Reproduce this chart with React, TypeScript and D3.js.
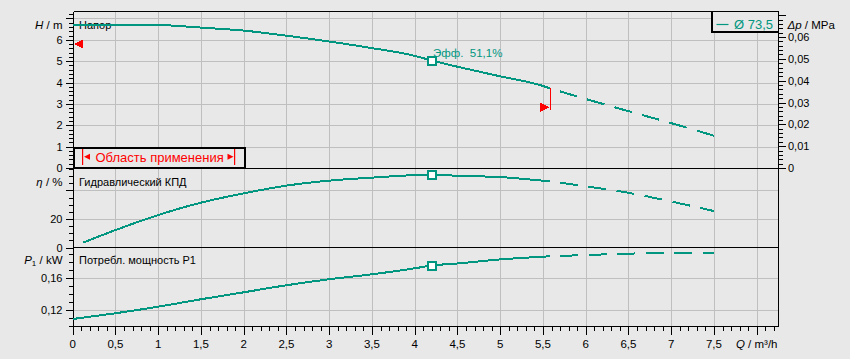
import React from 'react';
import * as d3 from 'd3';

// ---- data ----
const qHead = [0, 0.5, 1, 1.5, 2, 2.5, 3, 3.5, 4, 4.2, 4.5, 5, 5.5, 5.58, 6, 6.5, 7, 7.5];
const headM = [6.70, 6.70, 6.69, 6.57, 6.43, 6.19, 5.92, 5.61, 5.25, 5.03, 4.74, 4.29, 3.84, 3.73, 3.23, 2.66, 2.10, 1.51];
const qEff = [0.12, 0.5, 1, 1.5, 2, 2.5, 3, 3.5, 4, 4.2, 4.5, 5, 5.5, 5.58, 6, 6.5, 7, 7.5];
const effPct = [3.4, 12.2, 22.7, 31.4, 37.9, 43.3, 46.8, 48.9, 50.7, 51.1, 50.2, 49.3, 46.8, 46.4, 42.8, 38.3, 32.2, 25.5];
const qPow = [0, 0.5, 1, 1.5, 2, 2.5, 3, 3.5, 4, 4.2, 4.5, 5, 5.5, 5.58, 6, 6.5, 7, 7.5];
const powerKW = [0.1091, 0.1163, 0.1245, 0.1338, 0.1425, 0.1513, 0.1588, 0.165, 0.1725, 0.176, 0.1785, 0.1836, 0.187, 0.1875, 0.1891, 0.1908, 0.192, 0.191];

const qDuty = 4.2;
const qSolidLimit = 5.58;
const headMinMarker = 5.8;
const headMaxMarker = 2.84;
const headMaxLineEnd = 2.72;

const xTickLabels = ['0', '0,5', '1', '1,5', '2', '2,5', '3', '3,5', '4', '4,5', '5', '5,5', '6', '6,5', '7', '7,5'];
const hTickLabels = ['0', '1', '2', '3', '4', '5', '6'];
const dpTickLabels = ['0', '0,01', '0,02', '0,03', '0,04', '0,05', '0,06'];
const effTickLabels = ['0', '20'];
const powTickLabels = ['0,12', '0,16'];

const legendText = 'Ø 73,5';
const effLabel = 'Эфф.  51,1%';

// ---- layout ----
const W = 850, HGT = 359;
const L = 73.5, R = 778.5, T = 11.5, S1 = 168.5, S2 = 247.5, B = 326.5;
const TEAL = '#00967f';
const GRID = '#bfbfbf';
const BG = '#e8e8e8';
const FONT = "'Liberation Sans', Arial, sans-serif";

const x = d3.scaleLinear().domain([0, 8]).range([72.7, 756.7]);
const yH = d3.scaleLinear().domain([0, 7.3]).range([168, 12]);
const yEta = d3.scaleLinear().domain([0, 51.1]).range([247.5, 174.5]);
const yP = d3.scaleLinear().domain([0.1, 0.2]).range([326.3, 246.3]);
const mpaToM = 1e6 / (998 * 9.81);
const yDp = (p: number) => yH(p * mpaToM);

const px = (v: number) => Math.round(v) + 0.5;

type Pt = [number, number];
const zip = (a: number[], b: number[]): Pt[] => a.map((q, i) => [q, b[i]]);
const solid = (pts: Pt[]) => pts.filter((d) => d[0] <= qSolidLimit + 1e-9);
const dashed = (pts: Pt[]) => pts.filter((d) => d[0] >= qSolidLimit - 1e-9);

const mk = (ys: d3.ScaleLinear<number, number>) =>
  d3.line<Pt>().x((d) => x(d[0])).y((d) => ys(d[1])).curve(d3.curveMonotoneX);

const headPts = zip(qHead, headM);
const effPts = zip(qEff, effPct);
const powPts = zip(qPow, powerKW);

export default function App() {
  const lH = mk(yH), lE = mk(yEta), lP = mk(yP);

  const vGrid = d3.range(1, 17).map((i) => i * 0.5);
  const hGridH = d3.range(1, 8);
  const hGridE = [20, 40];
  const hGridP = [0.12, 0.16];

  // ticks
  const xTicks = d3.range(0, 83).map((i) => i / 10);
  const hTicks = d3.range(0, 37).map((i) => i / 5);
  const eTicks = d3.range(0, 12).map((i) => i * 5);
  const pTicks = d3.range(0, 10).map((i) => 0.1 + i * 0.01);
  const dpTicks = d3.range(0, 36).map((i) => i * 0.002);

  const dutyH = headM[qHead.indexOf(qDuty)];
  const dutyE = effPct[qEff.indexOf(qDuty)];
  const dutyP = powerKW[qPow.indexOf(qDuty)];
  const endH = headM[qHead.indexOf(qSolidLimit)];

  const sq = (cx: number, cy: number, key: string) => (
    <rect key={key} x={Math.round(cx) - 4} y={Math.round(cy) - 4} width={8} height={8} fill="#fff" stroke={TEAL} strokeWidth={2} shapeRendering="crispEdges" />
  );

  const lineStyle = { fill: 'none', stroke: TEAL, strokeWidth: 2, shapeRendering: 'crispEdges' } as const;
  const dashProps = { strokeDasharray: '18 10.5', strokeDashoffset: 18 };

  const yl = (y: number) => y + 4;

  return (
    <svg width={W} height={HGT} style={{ position: 'absolute', left: 0, top: 0, display: 'block' }} fontFamily={FONT}>
      <rect x={0} y={0} width={W} height={HGT} fill={BG} />

      {/* grid */}
      <g stroke={GRID} strokeWidth={1} shapeRendering="crispEdges">
        {vGrid.map((q) => (
          <line key={'v' + q} x1={px(x(q))} x2={px(x(q))} y1={T} y2={B} />
        ))}
        {hGridH.map((h) => (
          <line key={'h' + h} x1={L} x2={R} y1={px(yH(h))} y2={px(yH(h))} />
        ))}
        {hGridE.map((e) => (
          <line key={'e' + e} x1={L} x2={R} y1={px(yEta(e))} y2={px(yEta(e))} />
        ))}
        {hGridP.map((p) => (
          <line key={'p' + p} x1={L} x2={R} y1={px(yP(p))} y2={px(yP(p))} />
        ))}
      </g>

      {/* frame & separators */}
      <g stroke="#000" strokeWidth={1} shapeRendering="crispEdges" fill="none">
        <line x1={L} x2={R} y1={T} y2={T} />
        <line x1={L} x2={R} y1={S1} y2={S1} />
        <line x1={L} x2={R} y1={S2} y2={S2} />
        <line x1={L} x2={R} y1={B} y2={B} />
        <line x1={L} x2={L} y1={T} y2={B} />
        <line x1={R} x2={R} y1={T} y2={B} />
      </g>

      {/* ticks */}
      <g stroke="#000" strokeWidth={1} shapeRendering="crispEdges">
        {xTicks.map((q, i) => (
          <line key={'xt' + i} x1={px(x(q))} x2={px(x(q))} y1={B} y2={B + (i % 5 === 0 ? 8 : 4)} />
        ))}
        {hTicks.map((h, i) => (
          <line key={'ht' + i} x1={L - (i % 5 === 0 ? 8 : 5)} x2={L} y1={px(yH(h))} y2={px(yH(h))} />
        ))}
        {eTicks.map((e, i) => (
          <line key={'et' + i} x1={L - (i % 4 === 0 ? 8 : 5)} x2={L} y1={px(yEta(e))} y2={px(yEta(e))} />
        ))}
        {pTicks.map((p, i) => (
          <line key={'pt' + i} x1={L - (i === 2 || i === 6 ? 8 : 5)} x2={L} y1={px(yP(p))} y2={px(yP(p))} />
        ))}
        {dpTicks.map((p, i) => (
          <line key={'dt' + i} x1={R} x2={R + (i % 5 === 0 ? 7 : 4)} y1={px(yDp(p))} y2={px(yDp(p))} />
        ))}
      </g>

      {/* tick labels */}
      <g fontSize={11.5} fill="#000" textAnchor="middle">
        {xTickLabels.map((t, i) => (
          <text key={'xl' + i} x={x(i * 0.5)} y={347.5}>{t}</text>
        ))}
      </g>
      <g fontSize={11} fill="#000" textAnchor="end">
        {hTickLabels.map((t, i) => (
          <text key={'hl' + i} x={62.5} y={yl(yH(i))}>{t}</text>
        ))}
        {effTickLabels.map((t, i) => (
          <text key={'el' + i} x={62.5} y={yl(yEta(i * 20))}>{t}</text>
        ))}
        {powTickLabels.map((t, i) => (
          <text key={'pl' + i} x={62.5} y={yl(yP(hGridP[i]))}>{t}</text>
        ))}
      </g>
      <g fontSize={11} fill="#000" textAnchor="start">
        {dpTickLabels.map((t, i) => (
          <text key={'dl' + i} x={788} y={yl(yDp(i * 0.01))}>{t}</text>
        ))}
      </g>

      {/* axis titles */}
      <g fontSize={11.5} fill="#000">
        <text x={62.5} y={29} textAnchor="end"><tspan fontStyle="italic">H</tspan> / m</text>
        <text x={62.5} y={185.5} textAnchor="end"><tspan fontStyle="italic">η</tspan> / %</text>
        <text x={62.5} y={264} textAnchor="end"><tspan fontStyle="italic">P</tspan><tspan fontSize={8} dy={2}>1</tspan><tspan dy={-2}> / kW</tspan></text>
        <text x={787.5} y={29}><tspan fontStyle="italic">Δp</tspan> / MPa</text>
        <text x={777.5} y={347.5} textAnchor="end"><tspan fontStyle="italic">Q</tspan> / m³/h</text>
      </g>
      <g fontSize={11} fill="#000">
        <text x={79} y={29}>Напор</text>
        <text x={79} y={185.5}>Гидравлический КПД</text>
        <text x={79} y={264}>Потребл.  мощность P1</text>
      </g>

      {/* curves */}
      <path d={lH(solid(headPts)) || ''} {...lineStyle} />
      <path d={lH(dashed(headPts)) || ''} {...lineStyle} {...dashProps} />
      <path d={lE(solid(effPts)) || ''} {...lineStyle} />
      <path d={lE(dashed(effPts)) || ''} {...lineStyle} {...dashProps} />
      <path d={lP(solid(powPts)) || ''} {...lineStyle} />
      <path d={lP(dashed(powPts)) || ''} {...lineStyle} {...dashProps} />

      {/* duty point markers */}
      {sq(x(qDuty), yH(dutyH), 'm1')}
      {sq(x(qDuty), yEta(dutyE), 'm2')}
      {sq(x(qDuty), yP(dutyP), 'm3')}
      <text x={433} y={57} fontSize={11.5} fill={TEAL} style={{ whiteSpace: 'pre' }}>{effLabel}</text>

      {/* operating range markers */}
      <path
        d={`M${x(0) + 1.5},${yH(headMinMarker)} L${x(0) + 10.5},${yH(headMinMarker) - 4.5} L${x(0) + 10.5},${yH(headMinMarker) + 4.5} Z`}
        fill="#ff0000"
        shapeRendering="crispEdges"
      />
      <line
        x1={px(x(qSolidLimit))} x2={px(x(qSolidLimit))}
        y1={yH(endH)} y2={yH(headMaxLineEnd)}
        stroke="#ff0000" strokeWidth={1} shapeRendering="crispEdges"
      />
      <path
        d={`M${x(qSolidLimit)},${yH(headMaxMarker)} L${x(qSolidLimit) - 9.5},${yH(headMaxMarker) - 4.5} L${x(qSolidLimit) - 9.5},${yH(headMaxMarker) + 4.5} Z`}
        fill="#ff0000"
        shapeRendering="crispEdges"
      />

      {/* operating range box */}
      <rect x={73.5} y={147.5} width={171.5} height={20} fill={BG} stroke="#000" strokeWidth={2} shapeRendering="crispEdges" />
      <g fill="#ff0000" stroke="none">
        <rect x={82} y={149} width={1.2} height={16} />
        <path d="M84,156.7 L90,153.7 L90,159.7 Z" />
        <rect x={234} y={149} width={1.2} height={16} />
        <path d="M233.5,156.7 L227.5,153.7 L227.5,159.7 Z" />
        <text x={95.5} y={161.5} fontSize={13}>Область применения</text>
      </g>

      {/* legend */}
      <rect x={712} y={11.5} width={66.5} height={20.5} fill={BG} stroke="#000" strokeWidth={1.5} shapeRendering="crispEdges" />
      <line x1={716.5} x2={728.5} y1={24.5} y2={24.5} stroke={TEAL} strokeWidth={1.2} />
      <text x={734} y={28.5} fontSize={13} fill={TEAL}>{legendText}</text>
    </svg>
  );
}
